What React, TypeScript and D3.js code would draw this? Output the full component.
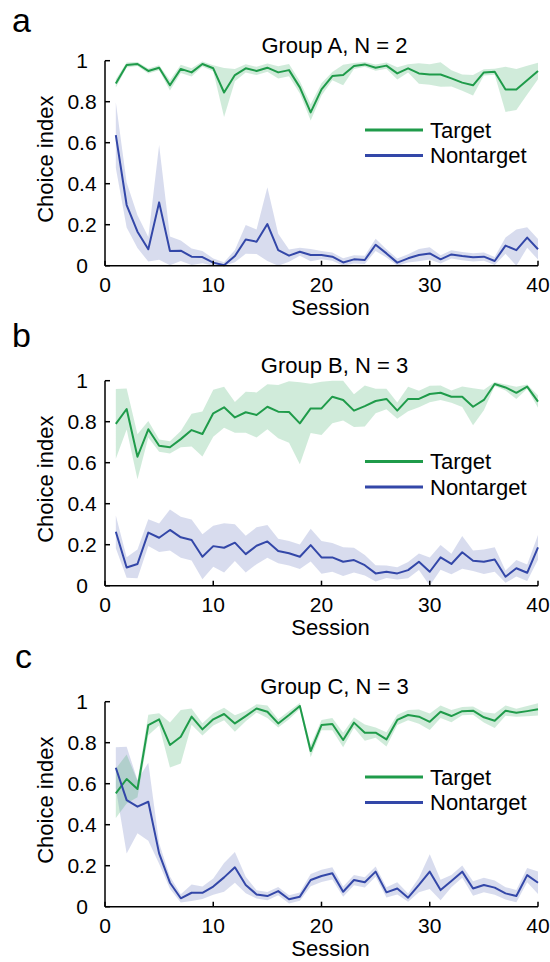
import React from "react";
import * as d3 from "d3";

// Sessions 1..40 on the x axis
const sessions: number[] = d3.range(1, 41);
const xTicks = [0, 10, 20, 30, 40];
const yTicks = [0, 0.2, 0.4, 0.6, 0.8, 1];
const yTickLabels = ["0", "0.2", "0.4", "0.6", "0.8", "1"];
const seriesNames = ["Target", "Nontarget"];

// Group A
const targetA = [0.889, 0.979, 0.984, 0.95, 0.966, 0.88, 0.96, 0.943, 0.984, 0.963, 0.845, 0.93, 0.963, 0.95, 0.966, 0.943, 0.954, 0.87, 0.748, 0.86,
  0.925, 0.93, 0.974, 0.982, 0.966, 0.976, 0.938, 0.963, 0.938, 0.933, 0.933, 0.914, 0.893, 0.88, 0.943, 0.946, 0.86, 0.86, 0.905, 0.95];
const targetAErr = [0.02, 0.012, 0.01, 0.012, 0.012, 0.025, 0.02, 0.02, 0.012, 0.015, 0.12, 0.03, 0.02, 0.02, 0.02, 0.03, 0.03, 0.03, 0.04, 0.03,
  0.02, 0.05, 0.015, 0.012, 0.015, 0.015, 0.03, 0.02, 0.05, 0.05, 0.06, 0.04, 0.04, 0.05, 0.015, 0.015, 0.11, 0.1, 0.07, 0.04];
const nontargetA = [0.637, 0.296, 0.166, 0.08, 0.309, 0.072, 0.073, 0.044, 0.042, 0.015, 0.002, 0.047, 0.128, 0.117, 0.203, 0.076, 0.049, 0.068, 0.052, 0.052,
  0.044, 0.016, 0.031, 0.028, 0.102, 0.06, 0.015, 0.036, 0.052, 0.06, 0.031, 0.055, 0.047, 0.041, 0.044, 0.023, 0.098, 0.076, 0.137, 0.08];
const nontargetAErr = [0.16, 0.11, 0.08, 0.06, 0.28, 0.07, 0.05, 0.04, 0.03, 0.02, 0.015, 0.03, 0.07, 0.06, 0.18, 0.08, 0.03, 0.02, 0.03, 0.02,
  0.02, 0.02, 0.02, 0.02, 0.03, 0.02, 0.02, 0.02, 0.03, 0.03, 0.02, 0.02, 0.02, 0.02, 0.02, 0.02, 0.04, 0.1, 0.05, 0.05];

// Group B
const targetB = [0.789, 0.862, 0.629, 0.763, 0.683, 0.675, 0.715, 0.759, 0.74, 0.841, 0.87, 0.821, 0.846, 0.833, 0.873, 0.849, 0.847, 0.792, 0.865, 0.865,
  0.922, 0.906, 0.854, 0.876, 0.901, 0.911, 0.854, 0.911, 0.911, 0.935, 0.941, 0.922, 0.922, 0.873, 0.906, 0.984, 0.967, 0.941, 0.971, 0.898];
const targetBErr = [0.17, 0.1, 0.11, 0.04, 0.03, 0.03, 0.04, 0.08, 0.11, 0.115, 0.1, 0.075, 0.1, 0.11, 0.11, 0.13, 0.15, 0.2, 0.12, 0.13,
  0.13, 0.1, 0.08, 0.1, 0.06, 0.05, 0.04, 0.06, 0.04, 0.04, 0.035, 0.03, 0.05, 0.09, 0.05, 0.01, 0.015, 0.03, 0.01, 0.03];
const nontargetB = [0.263, 0.089, 0.106, 0.259, 0.234, 0.272, 0.236, 0.223, 0.141, 0.193, 0.185, 0.21, 0.154, 0.195, 0.216, 0.169, 0.158, 0.141, 0.198, 0.138,
  0.138, 0.117, 0.125, 0.1, 0.06, 0.068, 0.06, 0.076, 0.117, 0.068, 0.138, 0.106, 0.163, 0.122, 0.117, 0.128, 0.044, 0.085, 0.063, 0.187];
const nontargetBErr = [0.08, 0.05, 0.07, 0.065, 0.07, 0.1, 0.1, 0.1, 0.11, 0.1, 0.12, 0.09, 0.09, 0.09, 0.08, 0.06, 0.06, 0.06, 0.08, 0.08,
  0.07, 0.07, 0.06, 0.05, 0.04, 0.03, 0.03, 0.04, 0.04, 0.07, 0.06, 0.05, 0.08, 0.05, 0.06, 0.06, 0.03, 0.04, 0.04, 0.06];

// Group C
const targetC = [0.553, 0.623, 0.574, 0.886, 0.914, 0.789, 0.829, 0.927, 0.865, 0.914, 0.94, 0.894, 0.93, 0.967, 0.951, 0.894, 0.935, 0.979, 0.759, 0.886,
  0.891, 0.813, 0.898, 0.849, 0.849, 0.816, 0.911, 0.935, 0.927, 0.902, 0.951, 0.93, 0.954, 0.956, 0.924, 0.907, 0.956, 0.946, 0.954, 0.963];
const targetCErr = [0.12, 0.12, 0.04, 0.05, 0.03, 0.11, 0.13, 0.04, 0.03, 0.03, 0.03, 0.04, 0.025, 0.02, 0.03, 0.02, 0.02, 0.015, 0.03, 0.025,
  0.03, 0.035, 0.025, 0.04, 0.025, 0.035, 0.025, 0.025, 0.035, 0.04, 0.03, 0.03, 0.02, 0.02, 0.025, 0.035, 0.025, 0.02, 0.025, 0.03];
const nontargetC = [0.678, 0.52, 0.488, 0.512, 0.26, 0.117, 0.041, 0.068, 0.068, 0.098, 0.143, 0.192, 0.106, 0.06, 0.052, 0.076, 0.036, 0.049, 0.13, 0.15,
  0.163, 0.073, 0.13, 0.119, 0.171, 0.07, 0.089, 0.044, 0.106, 0.171, 0.081, 0.125, 0.171, 0.089, 0.106, 0.093, 0.065, 0.052, 0.154, 0.117];
const nontargetCErr = [0.1, 0.26, 0.13, 0.19, 0.05, 0.03, 0.02, 0.04, 0.03, 0.04, 0.07, 0.075, 0.04, 0.02, 0.02, 0.02, 0.02, 0.02, 0.03, 0.03,
  0.03, 0.025, 0.025, 0.025, 0.025, 0.025, 0.03, 0.02, 0.035, 0.085, 0.05, 0.03, 0.03, 0.035, 0.035, 0.035, 0.03, 0.03, 0.035, 0.055];

const FONT = "'Liberation Sans', Arial, Helvetica, sans-serif";
const GREEN = "#1f9b4a";
const BLUE = "#3347a8";
const GREEN_BAND = "rgb(40,165,85)";
const BLUE_BAND = "rgb(60,80,170)";

type PanelProps = {
  letter: string;
  title: string;
  target: number[];
  targetErr: number[];
  nontarget: number[];
  nontargetErr: number[];
  top: number;
  letterX: number;
  letterY: number;
  legendY: number;
};

const LEFT = 105;
const RIGHT = 538;
const H = 205;

function Panel(p: PanelProps) {
  const x = d3.scaleLinear().domain([0, 40]).range([LEFT, RIGHT]);
  const y = d3.scaleLinear().domain([0, 1]).range([p.top + H, p.top]);
  const clip = (v: number) => Math.max(0, Math.min(1, v));

  const band = (mean: number[], err: number[]) =>
    d3
      .area<number>()
      .x((_, i) => x(sessions[i]))
      .y0((_, i) => y(clip(mean[i] - err[i])))
      .y1((_, i) => y(clip(mean[i] + err[i])))(mean) || "";
  const line = (mean: number[]) =>
    d3
      .line<number>()
      .x((_, i) => x(sessions[i]))
      .y((d) => y(d))(mean) || "";

  const bottom = p.top + H;
  const midX = (LEFT + RIGHT) / 2;

  return (
    <g>
      <text x={p.letterX} y={p.letterY} fontSize={34} fontFamily={FONT}>
        {p.letter}
      </text>
      <text x={midX + 13} y={p.top - 8} fontSize={22} fontFamily={FONT} textAnchor="middle">
        {p.title}
      </text>

      <path d={band(p.nontarget, p.nontargetErr)} fill={BLUE_BAND} fillOpacity={0.2} />
      <path d={band(p.target, p.targetErr)} fill={GREEN_BAND} fillOpacity={0.22} />
      <path d={line(p.target)} fill="none" stroke={GREEN} strokeWidth={2} strokeLinejoin="round" />
      <path d={line(p.nontarget)} fill="none" stroke={BLUE} strokeWidth={2} strokeLinejoin="round" />

      {/* axes */}
      <line x1={LEFT} x2={LEFT} y1={p.top} y2={bottom} stroke="#000" strokeWidth={1.5} />
      <line x1={LEFT} x2={RIGHT} y1={bottom} y2={bottom} stroke="#000" strokeWidth={1.5} />
      {yTicks.map((t, i) => (
        <g key={"y" + t}>
          <line x1={LEFT} x2={LEFT + 5} y1={y(t)} y2={y(t)} stroke="#000" strokeWidth={1.5} />
          <text x={82} y={y(t)} dy="0.36em" fontSize={21} fontFamily={FONT} textAnchor="middle">
            {yTickLabels[i]}
          </text>
        </g>
      ))}
      {xTicks.map((t) => (
        <g key={"x" + t}>
          <line x1={x(t)} x2={x(t)} y1={bottom} y2={bottom - 5} stroke="#000" strokeWidth={1.5} />
          <text x={x(t)} y={bottom + 26} fontSize={21} fontFamily={FONT} textAnchor="middle">
            {t}
          </text>
        </g>
      ))}
      <text x={midX + 9} y={bottom + 49} fontSize={22} fontFamily={FONT} textAnchor="middle">
        Session
      </text>
      <text
        transform={`translate(53, ${(p.top + bottom) / 2 - 4}) rotate(-90)`}
        fontSize={22}
        fontFamily={FONT}
        textAnchor="middle"
      >
        Choice index
      </text>

      {/* legend */}
      {[GREEN, BLUE].map((c, i) => (
        <g key={seriesNames[i]}>
          <line x1={365} x2={423} y1={p.legendY + i * 25.5} y2={p.legendY + i * 25.5} stroke={c} strokeWidth={3} />
          <text x={430} y={p.legendY + i * 25.5} dy="0.36em" fontSize={22} fontFamily={FONT}>
            {seriesNames[i]}
          </text>
        </g>
      ))}
    </g>
  );
}

export default function App() {
  return (
    <svg
      width={550}
      height={962}
      style={{ position: "absolute", left: 0, top: 0, background: "#fff" }}
    >
      <rect width={550} height={962} fill="#fff" />
      <Panel
        letter="a"
        title="Group A, N = 2"
        target={targetA}
        targetErr={targetAErr}
        nontarget={nontargetA}
        nontargetErr={nontargetAErr}
        top={60.7}
        letterX={12}
        letterY={32}
        legendY={130}
      />
      <Panel
        letter="b"
        title="Group B, N = 3"
        target={targetB}
        targetErr={targetBErr}
        nontarget={nontargetB}
        nontargetErr={nontargetBErr}
        top={380.7}
        letterX={12}
        letterY={347}
        legendY={461.5}
      />
      <Panel
        letter="c"
        title="Group C, N = 3"
        target={targetC}
        targetErr={targetCErr}
        nontarget={nontargetC}
        nontargetErr={nontargetCErr}
        top={701.7}
        letterX={15}
        letterY={668}
        legendY={777}
      />
    </svg>
  );
}
